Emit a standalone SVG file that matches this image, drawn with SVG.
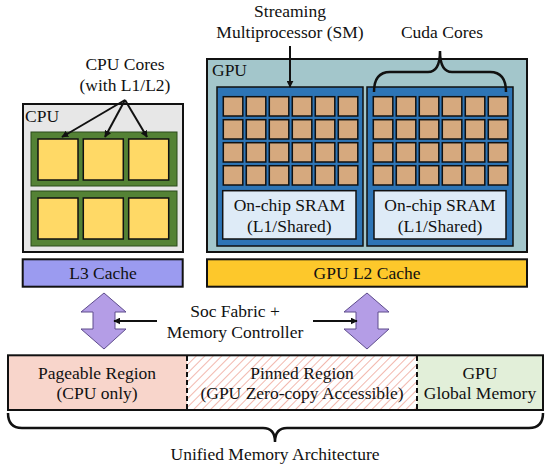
<svg xmlns="http://www.w3.org/2000/svg" width="550" height="469" viewBox="0 0 550 469" font-family="'Liberation Serif', 'Times New Roman', Times, serif">
<style>
text{font-family:'Liberation Serif','Times New Roman',Times,serif;font-size:17.5px;fill:#111}
.c{text-anchor:middle}
.core{fill:#d6a97e;stroke:#111;stroke-width:1.5}
.ycore{fill:#ffd966;stroke:#111;stroke-width:1.5}
.box{stroke:#111;stroke-width:2}
.ln{fill:none;stroke:#111;stroke-width:2}
.brace{fill:none;stroke:#111;stroke-width:2.5}
.dbl{fill:#b49de6;stroke:#5e4c8c;stroke-width:1}
</style>
<defs>
<marker id="ah" viewBox="0 0 10 10" refX="9" refY="5" markerWidth="7" markerHeight="7" markerUnits="userSpaceOnUse" orient="auto">
<path d="M0,0 L10,5 L0,10 z" fill="#111"/>
</marker>
<pattern id="hatch" width="6" height="6" patternUnits="userSpaceOnUse" patternTransform="rotate(45)">
<rect width="6" height="6" fill="#ffffff"/>
<line x1="0" y1="0" x2="0" y2="6" stroke="#f2b8ae" stroke-width="2"/>
</pattern>
<g id="smcores">
<rect class="core" x="0" y="0" width="19.5" height="19.3"/><rect class="core" x="23" y="0" width="19.5" height="19.3"/><rect class="core" x="46" y="0" width="19.5" height="19.3"/><rect class="core" x="69" y="0" width="19.5" height="19.3"/><rect class="core" x="92" y="0" width="19.5" height="19.3"/><rect class="core" x="115" y="0" width="19.5" height="19.3"/>
<rect class="core" x="0" y="23" width="19.5" height="19.3"/><rect class="core" x="23" y="23" width="19.5" height="19.3"/><rect class="core" x="46" y="23" width="19.5" height="19.3"/><rect class="core" x="69" y="23" width="19.5" height="19.3"/><rect class="core" x="92" y="23" width="19.5" height="19.3"/><rect class="core" x="115" y="23" width="19.5" height="19.3"/>
<rect class="core" x="0" y="46" width="19.5" height="19.3"/><rect class="core" x="23" y="46" width="19.5" height="19.3"/><rect class="core" x="46" y="46" width="19.5" height="19.3"/><rect class="core" x="69" y="46" width="19.5" height="19.3"/><rect class="core" x="92" y="46" width="19.5" height="19.3"/><rect class="core" x="115" y="46" width="19.5" height="19.3"/>
<rect class="core" x="0" y="69" width="19.5" height="19.3"/><rect class="core" x="23" y="69" width="19.5" height="19.3"/><rect class="core" x="46" y="69" width="19.5" height="19.3"/><rect class="core" x="69" y="69" width="19.5" height="19.3"/><rect class="core" x="92" y="69" width="19.5" height="19.3"/><rect class="core" x="115" y="69" width="19.5" height="19.3"/>
</g>
</defs>
<rect width="550" height="469" fill="#ffffff"/>

<g id="cpu">
<rect class="box" x="23" y="104" width="160" height="148" fill="#e7e7e7"/>
<text x="25" y="122">CPU</text>
<rect x="31" y="132" width="146" height="54" fill="#548235" stroke="#2a4a1a" stroke-width="1"/>
<rect x="31" y="191" width="146" height="55" fill="#548235" stroke="#2a4a1a" stroke-width="1"/>
<rect class="ycore" x="38" y="139" width="40" height="41"/>
<rect class="ycore" x="83.3" y="139" width="40" height="41"/>
<rect class="ycore" x="128.7" y="139" width="40" height="41"/>
<rect class="ycore" x="38" y="198" width="40" height="41"/>
<rect class="ycore" x="83.3" y="198" width="40" height="41"/>
<rect class="ycore" x="128.7" y="198" width="40" height="41"/>
</g>

<g id="cpu-cores-label">
<text class="c" x="125" y="70">CPU Cores</text>
<text class="c" x="125" y="91">(with L1/L2)</text>
</g>

<g id="gpu">
<rect class="box" x="207" y="59" width="320" height="193" fill="#a3c6cb"/>
<text x="212" y="76">GPU</text>
</g>

<g id="sm1">
<rect x="217" y="87" width="146" height="159" fill="#2e75b6" stroke="#111" stroke-width="1.5"/>
<use href="#smcores" x="223.3" y="96.7"/>
<rect x="222.7" y="190.7" width="133.3" height="48.3" fill="#deebf7" stroke="#111" stroke-width="1.5"/>
<text class="c" x="289.3" y="211">On-chip SRAM</text>
<text class="c" x="289.3" y="232">(L1/Shared)</text>
</g>

<g id="sm2">
<rect x="367" y="87" width="146" height="159" fill="#2e75b6" stroke="#111" stroke-width="1.5"/>
<use href="#smcores" x="373.3" y="96.7"/>
<rect x="374" y="190.7" width="132" height="48.3" fill="#deebf7" stroke="#111" stroke-width="1.5"/>
<text class="c" x="440" y="211">On-chip SRAM</text>
<text class="c" x="440" y="232">(L1/Shared)</text>
</g>

<g id="sm-label">
<text class="c" x="290" y="17">Streaming</text>
<text class="c" x="290" y="38">Multiprocessor (SM)</text>
</g>

<g id="cuda-label">
<text class="c" x="442" y="38">Cuda Cores</text>
</g>

<g id="l3">
<rect class="box" x="22.7" y="259.3" width="160" height="27.4" fill="#9b9bf0"/>
<text class="c" x="103" y="279">L3 Cache</text>
</g>

<g id="l2">
<rect class="box" x="207" y="259.3" width="320" height="27.4" fill="#fdc82b"/>
<text class="c" x="367" y="279">GPU L2 Cache</text>
</g>

<g id="soc-label">
<text class="c" x="235" y="317">Soc Fabric +</text>
<text class="c" x="235" y="337.5">Memory Controller</text>
</g>

<g id="memory">
<rect x="8" y="355.3" width="179" height="54.7" fill="#f8d5cb"/>
<rect x="187" y="355.3" width="230" height="54.7" fill="url(#hatch)"/>
<rect x="417" y="355.3" width="126" height="54.7" fill="#e2efd9"/>
<rect x="8" y="355.3" width="535" height="54.7" fill="none" stroke="#111" stroke-width="2"/>
<line x1="187" y1="356" x2="187" y2="410" stroke="#111" stroke-width="2" stroke-dasharray="5,3"/>
<line x1="417" y1="356" x2="417" y2="410" stroke="#111" stroke-width="2" stroke-dasharray="5,3"/>
<text class="c" x="97" y="378.5">Pageable Region</text>
<text class="c" x="97" y="398.5">(CPU only)</text>
<text class="c" x="302" y="378.5">Pinned Region</text>
<text class="c" x="302" y="398.5">(GPU Zero-copy Accessible)</text>
<text class="c" x="480" y="378.5">GPU</text>
<text class="c" x="480" y="398.5">Global Memory</text>
</g>

<g id="uma-label">
<text class="c" x="275" y="460">Unified Memory Architecture</text>
</g>

<g id="connectors">
<line class="ln" x1="125" y1="100" x2="62" y2="137" marker-end="url(#ah)"/>
<line class="ln" x1="125" y1="100" x2="105" y2="137" marker-end="url(#ah)"/>
<line class="ln" x1="125" y1="100" x2="147" y2="137" marker-end="url(#ah)"/>
<line class="ln" x1="290" y1="46" x2="290" y2="87" marker-end="url(#ah)"/>
<path class="brace" d="M374,92 Q374,72 390,72 H428 Q440,72 440,51 Q440,72 452,72 H490 Q506,72 506,92"/>
<polygon class="dbl" points="104,293 126,312 115,312 115,329 126,329 104,349 81,329 93,329 93,312 81,312"/>
<polygon class="dbl" points="367,293 389,312 378,312 378,329 389,329 367,349 344,329 356,329 356,312 344,312"/>
<line class="ln" x1="157" y1="321" x2="114" y2="321" marker-end="url(#ah)"/>
<line class="ln" x1="313" y1="321" x2="357" y2="321" marker-end="url(#ah)"/>
<path class="brace" d="M8,413 Q8,428 22,428 H263 Q275,428 275,442 Q275,428 287,428 H529 Q543,428 543,413"/>
</g>
</svg>
